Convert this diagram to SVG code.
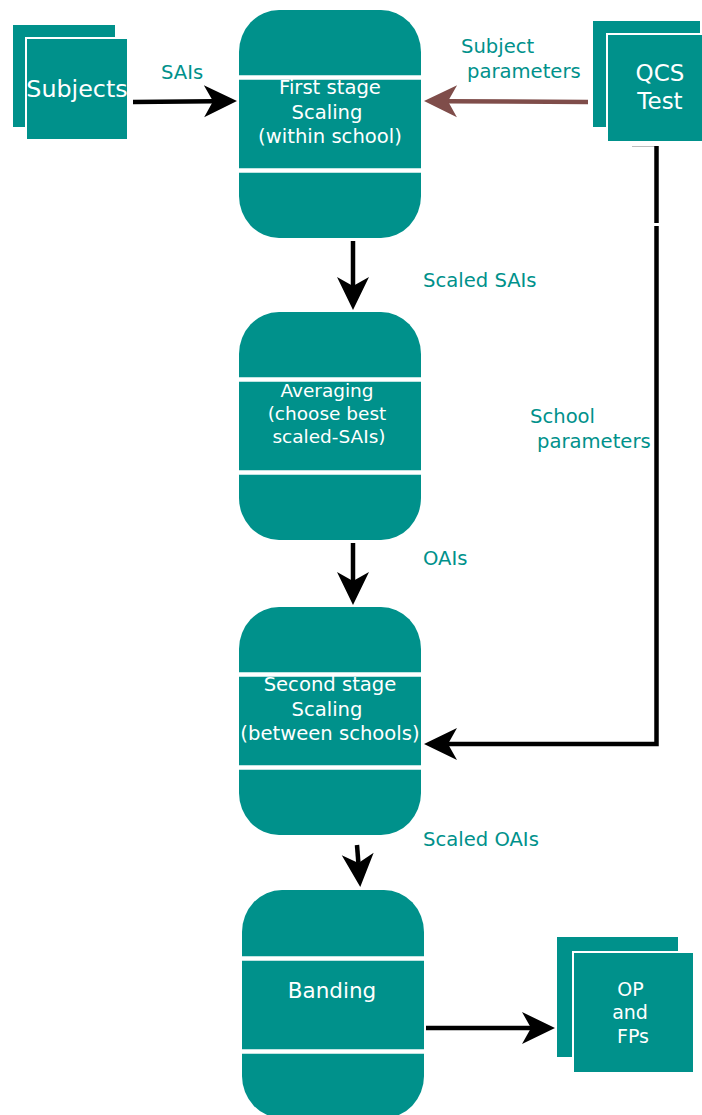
<svg xmlns="http://www.w3.org/2000/svg" width="702" height="1115" viewBox="0 0 702 1115">
  <defs>
    <style>
      .box { fill: #00918b; }
      .front { fill: #00918b; stroke: #ffffff; stroke-width: 2; }
      .sep { stroke: #ffffff; stroke-width: 4.5; }
      .ntext { font-family: "DejaVu Sans", "Noto Sans", sans-serif; fill: #ffffff; text-anchor: middle; }
      .proc { font-size: 19.6px; }
      .lbl { font-family: "DejaVu Sans", "Noto Sans", sans-serif; font-size: 19.6px; fill: #00918b; }
      .flow { fill: none; stroke: #000000; stroke-width: 4.5; }
      .flow-brown { fill: none; stroke: #7f4d4a; stroke-width: 4.5; }
    </style>
    <!-- barbed arrowhead; reference point is the notch, tip lies 24 units ahead -->
    <marker id="arrow" viewBox="-10 -17 35 34" refX="0" refY="0" markerWidth="35" markerHeight="34" markerUnits="userSpaceOnUse" orient="auto">
      <path d="M24,0 L-9,-16 L0,0 L-9,16 Z" fill="#000000"/>
    </marker>
    <marker id="arrow-brown" viewBox="-10 -17 35 34" refX="0" refY="0" markerWidth="35" markerHeight="34" markerUnits="userSpaceOnUse" orient="auto">
      <path d="M24,0 L-9,-16 L0,0 L-9,16 Z" fill="#7f4d4a"/>
    </marker>
  </defs>

  <rect width="702" height="1115" fill="#ffffff"/>

  <!-- data stores -->
  <g id="subjects">
    <rect class="box" x="13" y="25" width="102" height="102"/>
    <rect class="front" x="26" y="38" width="102" height="102"/>
    <text class="ntext" x="77" y="97" font-size="23.8">Subjects</text>
  </g>

  <g id="qcs-test">
    <rect class="box" x="593" y="21" width="107" height="106"/>
    <rect class="front" x="607" y="34" width="102" height="108"/>
    <text class="ntext" x="660" y="81" font-size="23">QCS</text>
    <text class="ntext" x="660" y="109" font-size="23">Test</text>
  </g>

  <g id="op-fps">
    <rect class="box" x="557" y="937" width="121" height="120"/>
    <rect class="front" x="573" y="952" width="121" height="121"/>
    <text class="ntext" x="630.5" y="996" font-size="19">OP</text>
    <text class="ntext" x="630" y="1019" font-size="19">and</text>
    <text class="ntext" x="633" y="1043" font-size="19">FPs</text>
  </g>

  <!-- processes -->
  <g id="first-stage">
    <rect class="box" x="239" y="10" width="182" height="228" rx="40" ry="42"/>
    <line class="sep" x1="239" y1="77.5" x2="421" y2="77.5"/>
    <line class="sep" x1="239" y1="170.5" x2="421" y2="170.5"/>
    <text class="ntext proc" x="330" y="94">First stage</text>
    <text class="ntext proc" x="327" y="119">Scaling</text>
    <text class="ntext proc" x="330" y="143">(within school)</text>
  </g>

  <g id="averaging">
    <rect class="box" x="239" y="312" width="182" height="228" rx="40" ry="42"/>
    <line class="sep" x1="239" y1="379.5" x2="421" y2="379.5"/>
    <line class="sep" x1="239" y1="472.5" x2="421" y2="472.5"/>
    <text class="ntext" x="327" y="397" font-size="18.5">Averaging</text>
    <text class="ntext" x="327" y="420" font-size="18.5">(choose best</text>
    <text class="ntext" x="329" y="443" font-size="18.5">scaled-SAIs)</text>
  </g>

  <g id="second-stage">
    <rect class="box" x="239" y="607" width="182" height="228" rx="40" ry="42"/>
    <line class="sep" x1="239" y1="674.5" x2="421" y2="674.5"/>
    <line class="sep" x1="239" y1="767.5" x2="421" y2="767.5"/>
    <text class="ntext proc" x="330" y="691">Second stage</text>
    <text class="ntext proc" x="327" y="716">Scaling</text>
    <text class="ntext proc" x="330" y="740">(between schools)</text>
  </g>

  <g id="banding">
    <rect class="box" x="242" y="890" width="182" height="228" rx="40" ry="42"/>
    <line class="sep" x1="242" y1="958.5" x2="424" y2="958.5"/>
    <line class="sep" x1="242" y1="1051.5" x2="424" y2="1051.5"/>
    <text class="ntext" x="332" y="998" font-size="21.5">Banding</text>
  </g>

  <!-- connectors -->
  <g id="connectors">
    <line class="flow" x1="133" y1="102" x2="213" y2="101.2" marker-end="url(#arrow)"/>
    <line class="flow-brown" x1="588" y1="102" x2="448" y2="101.2" marker-end="url(#arrow-brown)"/>
    <line class="flow" x1="353" y1="241" x2="353" y2="286" marker-end="url(#arrow)"/>
    <line class="flow" x1="353" y1="543" x2="353" y2="581" marker-end="url(#arrow)"/>
    <line class="flow" x1="357" y1="845" x2="358.4" y2="863" marker-end="url(#arrow)"/>
    <line class="flow" x1="426" y1="1028" x2="531" y2="1028" marker-end="url(#arrow)"/>
    <line x1="632" y1="146.5" x2="656" y2="146.5" stroke="#bdbdbd" stroke-width="1"/>
    <line class="flow" x1="656.5" y1="146" x2="656.5" y2="223"/>
    <path class="flow" d="M656.5,226 V744 H448" marker-end="url(#arrow)"/>
  </g>

  <!-- connector labels -->
  <g id="labels">
    <text class="lbl" x="161" y="79">SAIs</text>
    <text class="lbl" x="461" y="53">Subject</text>
    <text class="lbl" x="467" y="78">parameters</text>
    <text class="lbl" x="423" y="287">Scaled SAIs</text>
    <text class="lbl" x="530" y="423">School</text>
    <text class="lbl" x="537" y="448">parameters</text>
    <text class="lbl" x="423" y="565">OAIs</text>
    <text class="lbl" x="423" y="846">Scaled OAIs</text>
  </g>
</svg>
